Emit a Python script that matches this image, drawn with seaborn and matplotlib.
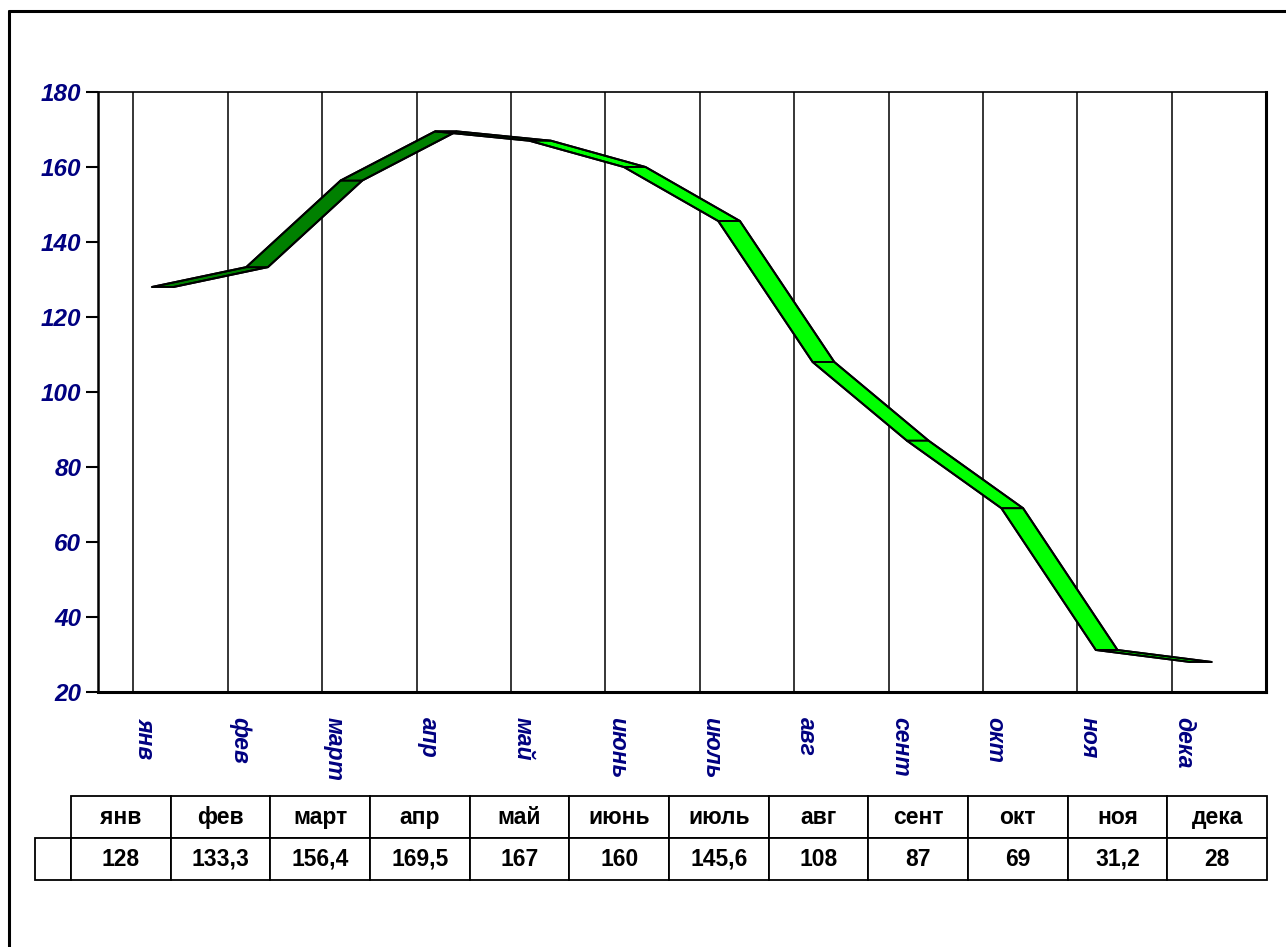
import numpy as np
import matplotlib
matplotlib.use("Agg")
import matplotlib.pyplot as plt
from matplotlib.patches import Polygon
from matplotlib.lines import Line2D
import seaborn as sns

# данные
months = ["янв", "фев", "март", "апр", "май", "июнь", "июль", "авг", "сент", "окт", "ноя", "дека"]
values = [128, 133.3, 156.4, 169.5, 167, 160, 145.6, 108, 87, 69, 31.2, 28]
y_ticks = [20, 40, 60, 80, 100, 120, 140, 160, 180]

sns.set_style("white")
plt.rcParams['font.family'] = ['Liberation Sans', 'DejaVu Sans']
plt.rcParams['text.color'] = 'black'

NAVY = "#000080"
DARK = "#008000"
LIGHT = "#00ff00"
DEPTH = 0.375    # shift of back wall (category units)
SHIFT = 0.07     # ribbon front edge offset
RIBBON = 0.23    # ribbon depth

W, H = 1286, 947
unit = 94.4
fig = plt.figure(figsize=(W / 100, H / 100), dpi=100)
ax = fig.add_axes([98 / W, 255 / H, (12 + DEPTH) * unit / W, 600 / H])

x = np.arange(len(months))
front = x + SHIFT
back = front + RIBBON

# ribbon faces
for i in range(len(values) - 1):
    pts = [(front[i], values[i]), (front[i + 1], values[i + 1]),
           (back[i + 1], values[i + 1]), (back[i], values[i])]
    color = DARK if values[i + 1] > values[i] else LIGHT
    ax.add_patch(Polygon(pts, closed=True, facecolor=color, edgecolor="black",
                         lw=1.4, joinstyle="miter", zorder=3))

sns.lineplot(x=front, y=values, color="black", lw=1.4, ax=ax, zorder=4)
sns.lineplot(x=back, y=values, color="black", lw=1.4, ax=ax, zorder=4)

# back wall gridlines
ax.vlines(x - 0.5 + DEPTH, 20, 180, color="black", lw=1.1, zorder=1)

ax.set_xlim(-0.5, 11.5 + DEPTH)
ax.set_ylim(20, 180)

major = list(np.arange(13) - 0.5) + [11.5 + DEPTH]
ax.set_xticks(major, [""] * len(major))
ax.set_xticks(x, months, minor=True, rotation=-90, fontsize=16.5,
              fontweight="bold", fontstyle="italic", color=NAVY)
ax.tick_params(axis="x", which="major", length=12, width=1.5, color="black", direction="out")
ax.tick_params(axis="x", which="minor", length=0, pad=18)

ax.set_yticks(y_ticks, [str(t) for t in y_ticks], fontsize=17.5,
              fontweight="bold", fontstyle="italic", color=NAVY)
ax.tick_params(axis="y", length=9, width=1.5, color="black", direction="out", pad=3, left=True)

for side, lw in [("left", 1.8), ("bottom", 2.2), ("top", 1.2), ("right", 2.2)]:
    ax.spines[side].set_color("black")
    ax.spines[side].set_linewidth(lw)
ax.set_xlabel("")
ax.set_ylabel("")

# рамка
fig.add_artist(Line2D([9 / W, 9 / W], [0, 1 - 11 / H], color="black", lw=2.2))
fig.add_artist(Line2D([9 / W, 1], [1 - 11 / H, 1 - 11 / H], color="black", lw=2.2))

# таблица данных
def fmt(v):
    return f"{v:g}".replace(".", ",")

ax_t = fig.add_axes([35 / W, 67 / H, (1267 - 35) / W, 84 / H])
ax_t.axis("off")
widths = [36] + [99.7] * 12
tot = sum(widths)
tab = ax_t.table(cellText=[[""] + months, [""] + [fmt(v) for v in values]],
                 colWidths=[w / tot for w in widths], bbox=[0, 0, 1, 1], cellLoc="center")
tab.auto_set_font_size(False)
tab.set_fontsize(16.5)
for (r, c), cell in tab.get_celld().items():
    cell.set_linewidth(1.3)
    cell.get_text().set_fontweight("bold")
    cell.get_text().set_color("black")
tab[0, 0].visible_edges = "open"

fig.savefig("out.png", dpi=100)
